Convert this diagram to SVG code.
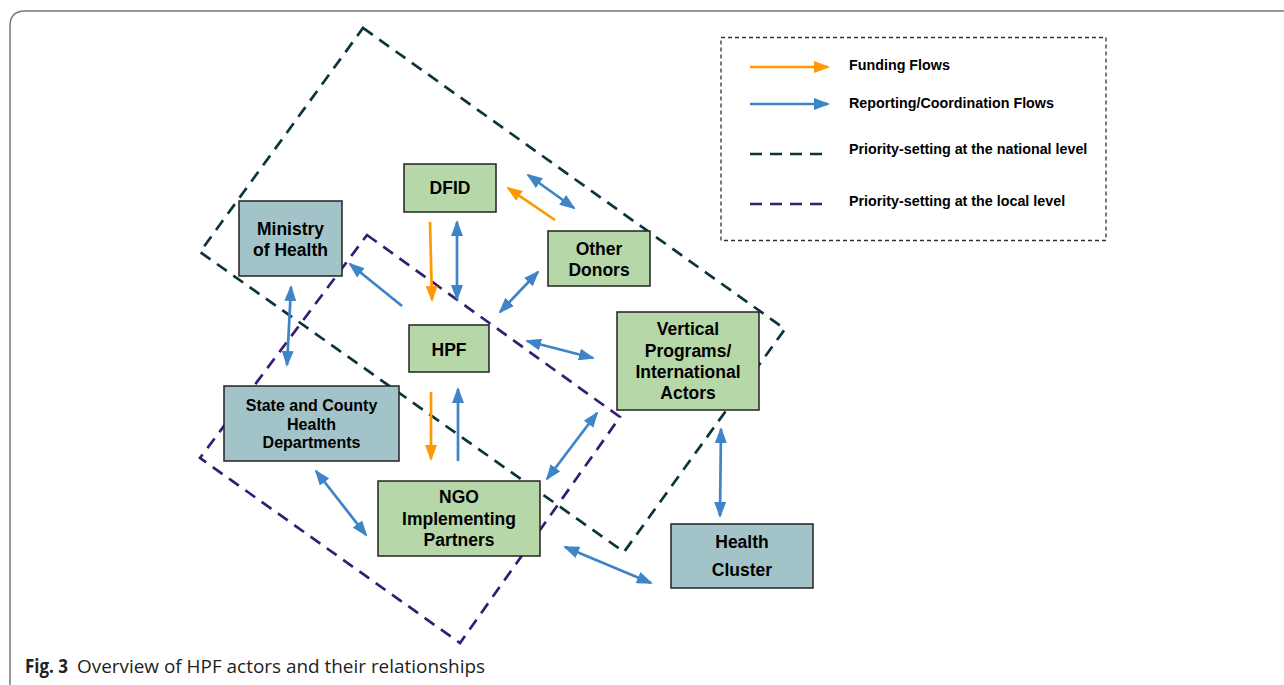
<svg xmlns="http://www.w3.org/2000/svg" width="1284" height="685" viewBox="0 0 1284 685">
<style>
.lbl{font-family:"Liberation Sans",Arial,sans-serif;font-weight:bold;fill:#000;text-anchor:middle}
.n18{font-size:17.5px}
.n16{font-size:16px}
.leg{font-family:"Liberation Sans",Arial,sans-serif;font-weight:bold;font-size:14.3px;fill:#000}
.green{fill:#b6d7a8;stroke:#222;stroke-width:1.5}
.cyan{fill:#a2c4c9;stroke:#222;stroke-width:1.5}
.blue{stroke:#3d85c6;stroke-width:2.7;fill:none}
.orange{stroke:#ff9900;stroke-width:2.7;fill:none}
.bd{marker-start:url(#hb);marker-end:url(#hb)}
.be{marker-end:url(#hb)}
.oe{marker-end:url(#ho)}
.nat{stroke:#0c343d;stroke-width:2.7;fill:none;stroke-dasharray:12 8}
.loc{stroke:#351c75;stroke-width:2.7;fill:none;stroke-dasharray:12 8}
</style>
<defs>
<marker id="hb" viewBox="0 0 16 12" markerUnits="userSpaceOnUse" markerWidth="16" markerHeight="12" refX="14" refY="6" orient="auto-start-reverse"><path d="M0,0 L16,6 L0,12 z" fill="#3d85c6"/></marker>
<marker id="ho" viewBox="0 0 16 12" markerUnits="userSpaceOnUse" markerWidth="16" markerHeight="12" refX="14" refY="6" orient="auto-start-reverse"><path d="M0,0 L16,6 L0,12 z" fill="#ff9900"/></marker>
</defs>
<rect width="1284" height="685" fill="#fff"/>
<path d="M10,690 L10,26 Q10,11 25,11 L1290,11" fill="none" stroke="#777" stroke-width="1.5"/>

<g id="regions">
<path class="nat" d="M363,28 L785,329 L624,552 L200,252 Z"/>
<path class="loc" d="M367,235 L620,417 L460,643 L200,458 Z"/>
</g>

<g id="legend">
<rect x="721" y="37.5" width="385" height="203" fill="none" stroke="#333" stroke-width="1.3" stroke-dasharray="4 3"/>
<path class="orange oe" d="M750,67 L828,67"/>
<path class="blue be" d="M750,104 L828,104"/>
<path class="nat" d="M750,154 L828,154"/>
<path class="loc" d="M750,204 L828,204"/>
<text class="leg" x="849" y="70">Funding Flows</text>
<text class="leg" x="849" y="108">Reporting/Coordination Flows</text>
<text class="leg" x="849" y="154">Priority-setting at the national level</text>
<text class="leg" x="849" y="206">Priority-setting at the local level</text>
</g>

<g id="n-dfid"><rect class="green" x="404" y="164" width="92" height="48"/><text class="lbl n18" x="450" y="194">DFID</text></g>
<g id="n-moh"><rect class="cyan" x="239" y="201" width="103" height="75"/><text class="lbl n18" x="290.5" y="235">Ministry</text><text class="lbl n18" x="290.5" y="256">of Health</text></g>
<g id="n-donors"><rect class="green" x="548" y="231" width="102" height="55"/><text class="lbl n18" x="599" y="255">Other</text><text class="lbl n18" x="599" y="276">Donors</text></g>
<g id="n-hpf"><rect class="green" x="409" y="325" width="80" height="47"/><text class="lbl n18" x="449" y="356">HPF</text></g>
<g id="n-state"><rect class="cyan" x="224" y="386" width="175" height="75"/><text class="lbl n16" x="311.5" y="411">State and County</text><text class="lbl n16" x="311.5" y="430">Health</text><text class="lbl n16" x="311.5" y="448">Departments</text></g>
<g id="n-ngo"><rect class="green" x="378" y="481" width="162" height="75"/><text class="lbl n18" x="459" y="503">NGO</text><text class="lbl n18" x="459" y="525">Implementing</text><text class="lbl n18" x="459" y="546">Partners</text></g>
<g id="n-vertical"><rect class="green" x="617" y="312" width="142" height="98"/><text class="lbl n18" x="688" y="335">Vertical</text><text class="lbl n18" x="688" y="357">Programs/</text><text class="lbl n18" x="688" y="378">International</text><text class="lbl n18" x="688" y="399">Actors</text></g>
<g id="n-cluster"><rect class="cyan" x="671" y="524" width="142" height="64"/><text class="lbl n18" x="742" y="548">Health</text><text class="lbl n18" x="742" y="576">Cluster</text></g>

<g id="connectors">
<path class="orange oe" d="M430,222 L432,300"/>
<path class="blue bd" d="M457,222 L457,299"/>
<path class="orange oe" d="M555,220 L508,188"/>
<path class="blue bd" d="M528,175 L574,208"/>
<path class="blue bd" d="M538,272 L500,312"/>
<path class="blue be" d="M402,306 L350,264"/>
<path class="blue bd" d="M291,287 L287,365"/>
<path class="blue bd" d="M527,341 L593,358"/>
<path class="orange oe" d="M431,392 L431,459"/>
<path class="blue be" d="M458,461 L458,389"/>
<path class="blue bd" d="M547,479 L597,413"/>
<path class="blue bd" d="M316,471 L366,535"/>
<path class="blue bd" d="M565,547 L651,583"/>
<path class="blue bd" d="M721,429 L720,516"/>
</g>

<text font-family="'Open Sans','Noto Sans',sans-serif" font-size="19" fill="#222"><tspan x="25" y="673" font-weight="bold" textLength="43" lengthAdjust="spacingAndGlyphs">Fig. 3</tspan><tspan x="77" y="673" textLength="408" lengthAdjust="spacingAndGlyphs">Overview of HPF actors and their relationships</tspan></text>
</svg>
